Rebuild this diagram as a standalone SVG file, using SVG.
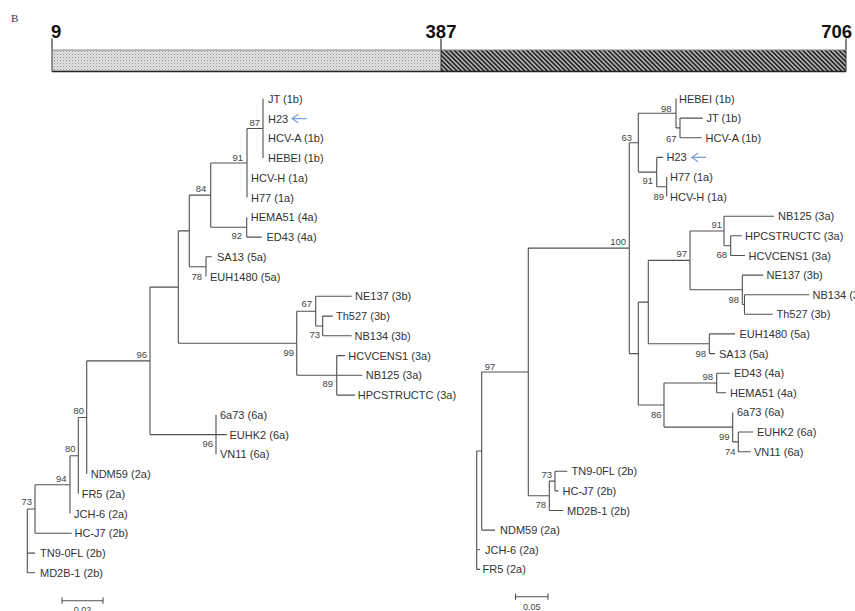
<svg xmlns="http://www.w3.org/2000/svg" width="855" height="611" viewBox="0 0 855 611">
<style>
.t{font-family:"Liberation Sans",Arial,sans-serif;font-size:11px;fill:#333}
.b{font-family:"Liberation Sans",Arial,sans-serif;font-size:9.5px;fill:#444;text-anchor:end}
.n{font-family:"Liberation Sans",Arial,sans-serif;font-size:18.5px;font-weight:bold;fill:#111}
.e{fill:none;stroke:#505050;stroke-width:1.1}
.ar{fill:none;stroke:#7a9bd6;stroke-width:1.1}
</style>
<defs>
<pattern id="dots" width="3" height="3" patternUnits="userSpaceOnUse"><rect width="3" height="3" fill="#e4e4e4"/><rect width="1" height="1" fill="#8c8c8c"/><rect x="1.5" y="1.5" width="1" height="1" fill="#a8a8a8"/></pattern>
<pattern id="hatch" width="3.2" height="3.2" patternUnits="userSpaceOnUse" patternTransform="rotate(-45)"><rect width="3.2" height="3.2" fill="#b8b8b8"/><rect width="1.7" height="3.2" fill="#262626"/></pattern>
</defs>
<rect width="855" height="611" fill="#fff"/>
<g id="header">
<text x="11" y="22" style="font-family:'Liberation Serif',serif;font-size:11px;fill:#333">B</text>
<text class="n" x="51" y="38">9</text>
<text class="n" x="441" y="38" text-anchor="middle">387</text>
<text class="n" x="852" y="38" text-anchor="end">706</text>
<path d="M52,38.5V50M441,38.5V50M846,38.5V50" stroke="#333" stroke-width="1.2" fill="none"/>
<rect x="52" y="50" width="389" height="21.5" fill="url(#dots)"/>
<rect x="441" y="50" width="405" height="21.5" fill="url(#hatch)"/>
<path d="M52,50H846" stroke="#888" stroke-width="1"/>
<path d="M52,71.5H846" stroke="#222" stroke-width="1.4"/>
<path d="M52,50V71.5M441,50V71.5M846,50V71.5" stroke="#333" stroke-width="1"/>
</g>
<g id="connectors">
<path class="e" d="M27.3,509V572.8M27.3,553.1H35M27.3,572.8H35M27.3,509H35
M35,484.7V533.3M35,533.3H71.7M35,484.7H70
M70,455.7V513.6M70,455.7H78.3
M78.3,417.5V493.8M78.3,417.5H86.7
M86.7,360.9V474.1M86.7,360.9H150
M150,287.1V434.6M150,434.6H216M150,287.1H178.3
M216,414.8V454.3M216,434.6H226.7
M178.3,230.9V343.3M178.3,343.3H296.7M178.3,230.9H189.3
M296.7,311.2V375.3M296.7,311.2H315.7M296.7,375.3H336.7
M315.7,296.3V326M315.7,296.3H351.7M315.7,326H322.7
M322.7,316.1V335.8M322.7,316.1H332.7M322.7,335.8H351.7
M336.7,355.6V395.1M336.7,355.6H345M336.7,375.3H362.3M336.7,395.1H355
M189.3,195.1V266.7M189.3,195.1H210.7M189.3,266.7H206
M206,256.8V276.6M206,256.8H211.7
M210.7,163V227.2M210.7,163H247M210.7,227.2H246.7
M246.7,217.3V237.1M246.7,237.1H261.7
M247,128.5V197.6M247,128.5H263
M263,98.8V158.1"/>
<path class="e" d="M476.7,451V569.4M476.7,549.8H480M476.7,569.4H480M476.7,451H481.7
M481.7,372V530.1M481.7,530.1H495M481.7,372H528.3
M528.3,248.1V495.8M528.3,495.8H549.3M528.3,248.1H629.3
M549.3,481.1V510.5M549.3,510.5H563.3M549.3,481.1H555
M555,471.3V490.9M555,471.3H567.3M555,490.9H558.3
M629.3,142.7V353.6M629.3,142.7H638.3M629.3,353.6H638.3
M638.3,113.2V172.1M638.3,113.2H676M638.3,172.1H656.7
M676,98.5V127.9M676,127.9H680
M680,118.1V137.7M680,118.1H702.7M680,137.7H701.7
M656.7,157.4V186.8M656.7,157.4H663.3M656.7,186.8H666.7
M666.7,177V196.6
M638.3,302.1V405M638.3,302.1H648.3M638.3,405H664
M648.3,260.4V343.8M648.3,260.4H690M648.3,343.8H709.3
M690,231V289.8M690,231H724M690,289.8H742.3
M724,216.2V245.7M724,216.2H774M724,245.7H730.7
M730.7,235.8V255.5M730.7,235.8H741.7M730.7,255.5H745
M742.3,275.1V304.5M742.3,275.1H763.3M742.3,304.5H744.5
M744.5,294.7V314.3M744.5,294.7H809.3M744.5,314.3H772.7
M709.3,333.9V353.6M709.3,333.9H735M709.3,353.6H715
M664,383V427.1M664,383H716.7M664,427.1H732.7
M716.7,373.2V392.8M716.7,373.2H730M716.7,392.8H726
M732.7,412.4V441.9M732.7,441.9H738.3
M738.3,432V451.7M738.3,432H753.3M738.3,451.7H750.7"/>
</g>
<g id="left-tree">
<g id="L-JT"><text class="t" x="268" y="102.8">JT (1b)</text></g>
<g id="L-H23"><text class="t" x="268" y="122.6">H23</text><path class="ar" d="M306.5,118.6H292M298.5,114.2L292,118.6L298.5,123"/></g>
<g id="L-HCVA"><text class="t" x="268" y="142.3">HCV-A (1b)</text></g>
<g id="L-HEBEI"><text class="t" x="268" y="162.1">HEBEI (1b)</text></g>
<g id="L-HCVH"><text class="t" x="251" y="181.8">HCV-H (1a)</text></g>
<g id="L-H77"><text class="t" x="251" y="201.6">H77 (1a)</text></g>
<g id="L-HEMA51"><text class="t" x="250.7" y="221.3">HEMA51 (4a)</text></g>
<g id="L-ED43"><text class="t" x="266.5" y="241.1">ED43 (4a)</text></g>
<g id="L-SA13"><text class="t" x="217" y="260.8">SA13 (5a)</text></g>
<g id="L-EUH1480"><text class="t" x="210" y="280.6">EUH1480 (5a)</text></g>
<g id="L-NE137"><text class="t" x="355" y="300.3">NE137 (3b)</text></g>
<g id="L-Th527"><text class="t" x="336" y="320.1">Th527 (3b)</text></g>
<g id="L-NB134"><text class="t" x="354.5" y="339.8">NB134 (3b)</text></g>
<g id="L-HCVCENS1"><text class="t" x="348.3" y="359.6">HCVCENS1 (3a)</text></g>
<g id="L-NB125"><text class="t" x="365.7" y="379.3">NB125 (3a)</text></g>
<g id="L-HPCSTRUCTC"><text class="t" x="357.7" y="399.1">HPCSTRUCTC (3a)</text></g>
<g id="L-6a73"><text class="t" x="220" y="418.8">6a73 (6a)</text></g>
<g id="L-EUHK2"><text class="t" x="229.5" y="438.6">EUHK2 (6a)</text></g>
<g id="L-VN11"><text class="t" x="220" y="458.3">VN11 (6a)</text></g>
<g id="L-NDM59"><text class="t" x="90.7" y="478.1">NDM59 (2a)</text></g>
<g id="L-FR5"><text class="t" x="81.7" y="497.8">FR5 (2a)</text></g>
<g id="L-JCH6"><text class="t" x="74" y="517.6">JCH-6 (2a)</text></g>
<g id="L-HCJ7"><text class="t" x="74.5" y="537.3">HC-J7 (2b)</text></g>
<g id="L-TN9"><text class="t" x="40" y="557.1">TN9-0FL (2b)</text></g>
<g id="L-MD2B1"><text class="t" x="40" y="576.8">MD2B-1 (2b)</text></g>
<g id="L-support">
<text class="b" x="260" y="126">87</text>
<text class="b" x="243" y="161">91</text>
<text class="b" x="201" y="192" style="text-anchor:middle">84</text>
<text class="b" x="242" y="239">92</text>
<text class="b" x="202" y="280">78</text>
<text class="b" x="312" y="307">67</text>
<text class="b" x="320" y="338">73</text>
<text class="b" x="294" y="355.7">99</text>
<text class="b" x="333" y="387">89</text>
<text class="b" x="213" y="446.7">96</text>
<text class="b" x="147" y="358">96</text>
<text class="b" x="84" y="414">80</text>
<text class="b" x="75.5" y="452">80</text>
<text class="b" x="66.5" y="482">94</text>
<text class="b" x="26.7" y="505" style="text-anchor:middle">73</text>
</g>
<g id="L-scale">
<path class="e" d="M62,600.7H103M62,597.5V603.8M103,597.5V603.8"/>
<text class="b" x="82.5" y="613" style="text-anchor:middle;font-size:9px">0.02</text>
</g>
</g>
<g id="right-tree">
<g id="R-HEBEI"><text class="t" x="679" y="102.5">HEBEI (1b)</text></g>
<g id="R-JT"><text class="t" x="706.5" y="122.1">JT (1b)</text></g>
<g id="R-HCVA"><text class="t" x="705.5" y="141.7">HCV-A (1b)</text></g>
<g id="R-H23"><text class="t" x="666.5" y="161.4">H23</text><path class="ar" d="M706,157.4H691.7M698.2,153L691.7,157.4L698.2,161.8"/></g>
<g id="R-H77"><text class="t" x="670" y="181">H77 (1a)</text></g>
<g id="R-HCVH"><text class="t" x="670" y="200.6">HCV-H (1a)</text></g>
<g id="R-NB125"><text class="t" x="778" y="220.2">NB125 (3a)</text></g>
<g id="R-HPCSTRUCTC"><text class="t" x="745" y="239.8">HPCSTRUCTC (3a)</text></g>
<g id="R-HCVCENS1"><text class="t" x="748.5" y="259.5">HCVCENS1 (3a)</text></g>
<g id="R-NE137"><text class="t" x="766.5" y="279.1">NE137 (3b)</text></g>
<g id="R-NB134"><text class="t" x="812.5" y="298.7">NB134 (3b)</text></g>
<g id="R-Th527"><text class="t" x="776.5" y="318.3">Th527 (3b)</text></g>
<g id="R-EUH1480"><text class="t" x="739.5" y="337.9">EUH1480 (5a)</text></g>
<g id="R-SA13"><text class="t" x="719" y="357.6">SA13 (5a)</text></g>
<g id="R-ED43"><text class="t" x="734" y="377.2">ED43 (4a)</text></g>
<g id="R-HEMA51"><text class="t" x="730" y="396.8">HEMA51 (4a)</text></g>
<g id="R-6a73"><text class="t" x="737" y="416.4">6a73 (6a)</text></g>
<g id="R-EUHK2"><text class="t" x="757" y="436">EUHK2 (6a)</text></g>
<g id="R-VN11"><text class="t" x="754" y="455.7">VN11 (6a)</text></g>
<g id="R-TN9"><text class="t" x="571.5" y="475.3">TN9-0FL (2b)</text></g>
<g id="R-HCJ7"><text class="t" x="562.5" y="494.9">HC-J7 (2b)</text></g>
<g id="R-MD2B1"><text class="t" x="567" y="514.5">MD2B-1 (2b)</text></g>
<g id="R-NDM59"><text class="t" x="500" y="534.1">NDM59 (2a)</text></g>
<g id="R-JCH6"><text class="t" x="485" y="553.8">JCH-6 (2a)</text></g>
<g id="R-FR5"><text class="t" x="482.5" y="573.4">FR5 (2a)</text></g>
<g id="R-support">
<text class="b" x="671.5" y="112">98</text>
<text class="b" x="676.5" y="141.5">67</text>
<text class="b" x="632" y="140.5">63</text>
<text class="b" x="653" y="184">91</text>
<text class="b" x="664" y="200">89</text>
<text class="b" x="626" y="245">100</text>
<text class="b" x="722" y="228">91</text>
<text class="b" x="727" y="258">68</text>
<text class="b" x="687" y="257">97</text>
<text class="b" x="739" y="303">98</text>
<text class="b" x="706" y="356.5">98</text>
<text class="b" x="713" y="380">98</text>
<text class="b" x="661.5" y="418">86</text>
<text class="b" x="729.5" y="440">99</text>
<text class="b" x="735.5" y="454.5">74</text>
<text class="b" x="490" y="370" style="text-anchor:middle">97</text>
<text class="b" x="552" y="478">73</text>
<text class="b" x="546" y="508">78</text>
</g>
<g id="R-scale">
<path class="e" d="M515.5,596.7H548M515.5,593.5V599.8M548,593.5V599.8"/>
<text class="b" x="531.7" y="610" style="text-anchor:middle;font-size:9px">0.05</text>
</g>
</g>
</svg>
